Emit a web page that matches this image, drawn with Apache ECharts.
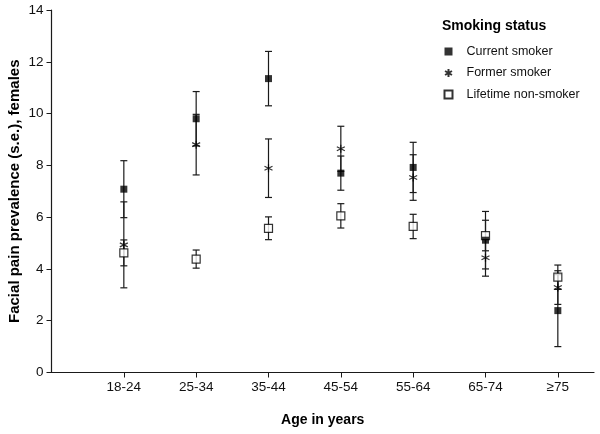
<!DOCTYPE html>
<html>
<head>
<meta charset="utf-8">
<script src="https://cdn.jsdelivr.net/npm/echarts@6/dist/echarts.min.js"></script>
<style>
  html, body { margin: 0; padding: 0; background: #fff; }
  #chart { width: 600px; height: 434px; }
</style>
</head>
<body>
<div id="chart"></div>
<script>
const categories = ['18-24', '25-34', '35-44', '45-54', '55-64', '65-74', '≥75'];
const yTicks = [0, 2, 4, 6, 8, 10, 12, 14];

const currentMean = [7.08, 9.8, 11.35, 7.7, 7.92, 5.11, 2.39];
const currentSE = [1.1, 1.05, 1.05, 0.66, 0.97, 1.11, 1.39];
const formerMean = [4.93, 8.8, 7.89, 8.64, 7.53, 4.43, 3.28];
const formerSE = [1.66, 1.17, 1.13, 0.87, 0.88, 0.71, 0.65];
const lifetimeMean = [4.62, 4.38, 5.57, 6.05, 5.64, 5.29, 3.68];
const lifetimeSE = [0.5, 0.35, 0.44, 0.47, 0.47, 0.59, 0.47];

const FONT = '"Liberation Sans", Arial, sans-serif';
const INK = '#1a1a1a';
const STAR = 'path://M5,0L5,10M0.67,2.5L9.33,7.5M0.67,7.5L9.33,2.5';

// x positions 1..7, one per age group
function points(mean) {
  return mean.map((v, i) => [i + 1, v]);
}
function errRows(mean, se) {
  return mean.map((v, i) => [i + 1, v - se[i], v + se[i]]);
}

function errorBars(name, mean, se) {
  return {
    name: name + ' s.e.',
    type: 'custom',
    silent: true,
    data: errRows(mean, se),
    encode: { x: 0, y: [1, 2] },
    renderItem: function (params, api) {
      const lo = api.coord([api.value(0), api.value(1)]);
      const hi = api.coord([api.value(0), api.value(2)]);
      const cap = 3.5;
      const style = { stroke: INK, lineWidth: 1.2 };
      return {
        type: 'group',
        children: [
          { type: 'line', shape: { x1: lo[0], y1: lo[1], x2: hi[0], y2: hi[1] }, style: style },
          { type: 'line', shape: { x1: lo[0] - cap, y1: lo[1], x2: lo[0] + cap, y2: lo[1] }, style: style },
          { type: 'line', shape: { x1: hi[0] - cap, y1: hi[1], x2: hi[0] + cap, y2: hi[1] }, style: style }
        ]
      };
    }
  };
}

const chart = echarts.init(document.getElementById('chart'));
chart.setOption({
  animation: false,
  textStyle: { fontFamily: FONT },
  grid: { left: 51.5, right: 6, top: 10, bottom: 61.5, outerBoundsMode: 'none', containLabel: false },
  graphic: [{
    type: 'text',
    left: 442,
    top: 19,
    style: { text: 'Smoking status', font: 'bold 14px ' + FONT, fill: '#000' }
  }],
  legend: {
    orient: 'vertical',
    left: 438.5,
    top: 39.5,
    itemWidth: 8,
    itemHeight: 8,
    itemGap: 7.5,
    selectedMode: false,
    textStyle: { fontSize: 12.5, color: '#111', padding: [0, 0, 0, 9], lineHeight: 14 },
    data: ['Current smoker', 'Former smoker', 'Lifetime non-smoker']
  },
  xAxis: {
    type: 'value',
    min: 0,
    max: 7.5,
    interval: 1,
    name: 'Age in years',
    nameLocation: 'middle',
    nameGap: 41,
    nameMoveOverlap: false,
    nameTextStyle: { fontSize: 14, fontWeight: 'bold', color: '#000' },
    splitLine: { show: false },
    axisLine: { lineStyle: { color: INK, width: 1.2 } },
    axisTick: { show: true, length: 5, customValues: [1, 2, 3, 4, 5, 6, 7], lineStyle: { color: INK } },
    axisLabel: {
      fontSize: 13.5,
      color: '#111',
      margin: 8,
      customValues: [1, 2, 3, 4, 5, 6, 7],
      formatter: function (v) { return categories[Math.round(v) - 1] || ''; }
    }
  },
  yAxis: {
    type: 'value',
    min: yTicks[0],
    max: yTicks[yTicks.length - 1],
    interval: 2,
    name: 'Facial pain prevalence (s.e.), females',
    nameLocation: 'middle',
    nameGap: 29,
    nameMoveOverlap: false,
    nameTextStyle: { fontSize: 15, fontWeight: 'bold', color: '#000' },
    splitLine: { show: false },
    axisLine: { show: true, lineStyle: { color: INK, width: 1.2 } },
    axisTick: { show: true, length: 5, lineStyle: { color: INK } },
    axisLabel: { fontSize: 13.5, color: '#111', margin: 8 }
  },
  series: [
    errorBars('Current smoker', currentMean, currentSE),
    errorBars('Former smoker', formerMean, formerSE),
    errorBars('Lifetime non-smoker', lifetimeMean, lifetimeSE),
    {
      name: 'Lifetime non-smoker',
      type: 'scatter',
      symbol: 'rect',
      symbolSize: 8,
      itemStyle: { color: '#fff', borderColor: '#000', borderWidth: 1.2 },
      emphasis: { disabled: true },
      data: points(lifetimeMean),
      z: 3
    },
    {
      name: 'Former smoker',
      type: 'scatter',
      symbol: STAR,
      symbolSize: 8,
      itemStyle: { color: '#000', borderColor: '#000', borderWidth: 1.2 },
      emphasis: { disabled: true },
      data: points(formerMean),
      z: 4
    },
    {
      name: 'Current smoker',
      type: 'scatter',
      symbol: 'rect',
      symbolSize: 7,
      itemStyle: { color: '#000' },
      emphasis: { disabled: true },
      data: points(currentMean),
      z: 5
    }
  ]
});
</script>
</body>
</html>
